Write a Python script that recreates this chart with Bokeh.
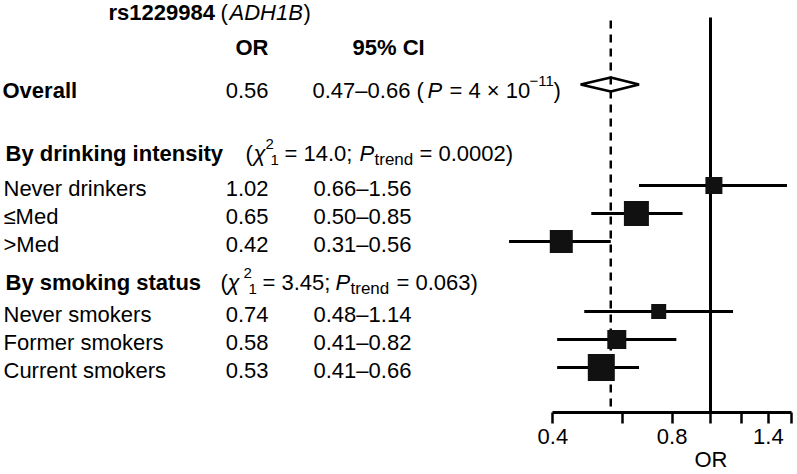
import math
from bokeh.plotting import figure
from bokeh.models import Label, Range1d, FixedTicker, NumeralTickFormatter, Title
from bokeh.embed import file_html
from bokeh.resources import INLINE

# ---------------- data ----------------
snp_id = "rs1229984"
gene = "ADH1B"

overall_or = 0.56
overall_lo = 0.47
overall_hi = 0.66
overall_p_mantissa = "4"
overall_p_exponent = "\u221211"

group_names = ["By drinking intensity", "By smoking status"]
group_chi2 = ["14.0", "3.45"]
group_ptrend = ["0.0002", "0.063"]

categories = ["Never drinkers", "\u2264Med", ">Med",
              "Never smokers", "Former smokers", "Current smokers"]
or_vals = [1.02, 0.65, 0.42, 0.74, 0.58, 0.53]
ci_lo = [0.66, 0.50, 0.31, 0.48, 0.41, 0.41]
ci_hi = [1.56, 0.85, 0.56, 1.14, 0.82, 0.66]
box_px = [17, 25, 23, 15, 19, 27]

null_or = 1.0
ticks_labeled = [0.4, 0.8, 1.4]
ticks_unlabeled = [0.6, 1.0, 1.2, 1.6]
axis_bounds = (0.4, 1.6)
x_title = "OR"

# ---------------- layout ----------------
W, H = 795, 474
AXIS_Y = 412
FONT = "Liberation Sans"
FS = 22
FS_SUP = 15
FS_SUB = 17
PX_PER_LN = 172.0
NULL_SX = 710.0
x_start = math.exp(-NULL_SX / PX_PER_LN)
x_end = math.exp((W - NULL_SX) / PX_PER_LN)
DY = -8  # label baseline correction

ROW_Y = [185, 213, 241, 311, 339, 367]
OVERALL_Y = 84
GROUP_BASE = [161, 290]
TITLE_BASE = 20
HEADER_BASE = 55
OVERALL_BASE = 98

p = figure(width=W, height=H, x_axis_type="log",
           x_range=Range1d(x_start, x_end), y_range=Range1d(AXIS_Y, 0),
           output_backend="svg", toolbar_location=None,
           y_axis_location=None,
           min_border_left=0, min_border_right=0, min_border_top=0,
           min_border_bottom=H - AXIS_Y)
p.outline_line_color = None
p.xgrid.visible = False
p.ygrid.visible = False
p.background_fill_color = "white"
p.border_fill_color = "white"


def lab(x, y, text, size=FS, style="normal", align="left"):
    p.add_layout(Label(x=x, y=y + DY, x_units="screen", y_units="data",
                       text=text, text_font=FONT,
                       text_font_size=f"{size}px", text_font_style=style,
                       text_align=align, text_baseline="alphabetic",
                       text_color="black"))


# title & headers
lab(108, TITLE_BASE, snp_id, style="bold")
lab(220, TITLE_BASE, "(")
lab(229, TITLE_BASE, gene, style="italic")
lab(303, TITLE_BASE, ")")
lab(268, HEADER_BASE, "OR", style="bold", align="right")
lab(352, HEADER_BASE, "95% CI", style="bold")

# overall row
lab(2, OVERALL_BASE, "Overall", style="bold")
lab(268, OVERALL_BASE, f"{overall_or:.2f}", align="right")
lab(312, OVERALL_BASE, f"{overall_lo:.2f}\u2013{overall_hi:.2f} (")
lab(427, OVERALL_BASE, "P", style="italic")
lab(449, OVERALL_BASE, f"= {overall_p_mantissa} \u00d7 10")
lab(529, OVERALL_BASE - 10, overall_p_exponent, size=FS_SUP)
lab(553, OVERALL_BASE, ")")

# group headers
g_x = [
    dict(par=245, chi=253, sup=265, sub=270, eq=284, P=359, trend=374, eq2=419),
    dict(par=220, chi=227, sup=243, sub=248, eq=262, P=335, trend=350, eq2=396),
]
for gi in range(2):
    b = GROUP_BASE[gi]
    gx = g_x[gi]
    lab(5, b, group_names[gi], style="bold")
    lab(gx["par"], b, "(")
    lab(gx["chi"], b, "\u03c7", style="italic")
    lab(gx["sup"], b - 10, "2", size=FS_SUP)
    lab(gx["sub"], b + 6, "1", size=FS_SUP)
    lab(gx["eq"], b, f"= {group_chi2[gi]};")
    lab(gx["P"], b, "P", style="italic")
    lab(gx["trend"], b + 6, "trend", size=FS_SUB)
    lab(gx["eq2"], b, f"= {group_ptrend[gi]})")

# category rows
for i, name in enumerate(categories):
    base = ROW_Y[i] + 11
    lab(3, base, name)
    lab(268, base, f"{or_vals[i]:.2f}", align="right")
    lab(313, base, f"{ci_lo[i]:.2f}\u2013{ci_hi[i]:.2f}")

# ---------------- marks ----------------
p.patch(x=[overall_lo, overall_or, overall_hi, overall_or],
        y=[OVERALL_Y, OVERALL_Y - 7, OVERALL_Y, OVERALL_Y + 7],
        fill_color="white", line_color="black", line_width=2.5)
p.segment(x0=[null_or], y0=[17], x1=[null_or], y1=[AXIS_Y],
          line_color="black", line_width=3)
p.segment(x0=[overall_or], y0=[20], x1=[overall_or], y1=[AXIS_Y],
          line_color="black", line_width=2.5, line_dash="8 6")
p.segment(x0=ci_lo, y0=ROW_Y, x1=ci_hi, y1=ROW_Y,
          line_color="black", line_width=3)
p.scatter(x=or_vals, y=ROW_Y, size=box_px, marker="square",
          fill_color="#111111", line_color=None)

# ---------------- axis ----------------
ax = p.xaxis[0]
ax.bounds = axis_bounds
ax.ticker = FixedTicker(ticks=ticks_labeled, minor_ticks=ticks_unlabeled)
ax.formatter = NumeralTickFormatter(format="0.0")
ax.axis_line_width = 3
ax.axis_line_color = "black"
ax.major_tick_in = 0
ax.major_tick_out = 11
ax.minor_tick_in = 0
ax.minor_tick_out = 11
ax.major_tick_line_width = 2.5
ax.minor_tick_line_width = 2.5
ax.major_tick_line_color = "black"
ax.minor_tick_line_color = "black"
ax.major_label_standoff = 5
ax.major_label_text_font = FONT
ax.major_label_text_font_size = f"{FS}px"
ax.major_label_text_color = "black"

# axis title under the null line (title in the below panel, shifted right)
p.add_layout(Title(text=x_title, align="left", offset=NULL_SX - 16,
                   standoff=-4, text_font=FONT, text_font_size=f"{FS}px",
                   text_font_style="normal", text_color="black"), "below")

open("out.html", "w").write(file_html(p, INLINE))
